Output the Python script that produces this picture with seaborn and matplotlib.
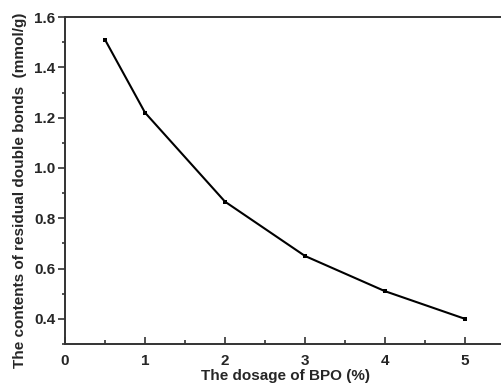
import matplotlib
matplotlib.use("Agg")
import matplotlib.pyplot as plt
import seaborn as sns
import pandas as pd
from matplotlib.ticker import MultipleLocator

# ── Data ─────────────────────────────────────────────────────────────────────
bpo_dosage = [0.5, 1, 2, 3, 4, 5]
residual_bonds = [1.51, 1.22, 0.866, 0.65, 0.51, 0.40]

df = pd.DataFrame({"dosage": bpo_dosage, "bonds": residual_bonds})

# ── Plot ─────────────────────────────────────────────────────────────────────
sns.set_style("ticks")
plt.rcParams["font.family"] = ["Liberation Sans", "DejaVu Sans"]
plt.rcParams["font.weight"] = "bold"

fig = plt.figure(figsize=(5.02, 3.86), dpi=100)
# axes runs slightly past the right edge, like the cropped original
ax = fig.add_axes([0.1295, 0.1088, 0.8765, 0.847])

sns.lineplot(data=df, x="dosage", y="bonds", ax=ax, color="black",
             linewidth=1.5, marker="s", markersize=3.5, markeredgewidth=0)

ax.set_xlim(0, 5.5)
ax.set_ylim(0.3, 1.6)
ax.xaxis.set_major_locator(MultipleLocator(1))
ax.xaxis.set_minor_locator(MultipleLocator(0.5))
ax.yaxis.set_major_locator(MultipleLocator(0.2))
ax.yaxis.set_minor_locator(MultipleLocator(0.1))
ax.yaxis.set_major_formatter(plt.FormatStrFormatter("%.1f"))

# x ticks point in, y ticks point out (as in the original)
ax.tick_params(which="both", top=False, right=False, width=1.2, color="#333333")
ax.tick_params(axis="x", which="both", direction="in")
ax.tick_params(axis="y", which="both", direction="out")
ax.tick_params(axis="x", which="major", length=5, pad=7, labelsize=11)
ax.tick_params(axis="x", which="minor", length=3)
ax.tick_params(axis="y", which="major", length=5, pad=2, labelsize=11)
ax.tick_params(axis="y", which="minor", length=2.5)
for lab in ax.get_xticklabels() + ax.get_yticklabels():
    lab.set_fontweight("bold")

for side in ["left", "bottom", "top", "right"]:
    ax.spines[side].set_visible(True)
    ax.spines[side].set_linewidth(1.4)
    ax.spines[side].set_color("#333333")

ax.set_xlabel("The dosage of BPO (%)", fontsize=11, fontweight="bold", labelpad=1)
ax.set_ylabel("The contents of residual double bonds  (mmol/g)", fontsize=11,
              fontweight="bold")
# label sits a bit lower than the axes centre in the original
ax.yaxis.set_label_coords(-0.086, 0.47)

fig.savefig("out.png", dpi=100)
plt.close()
